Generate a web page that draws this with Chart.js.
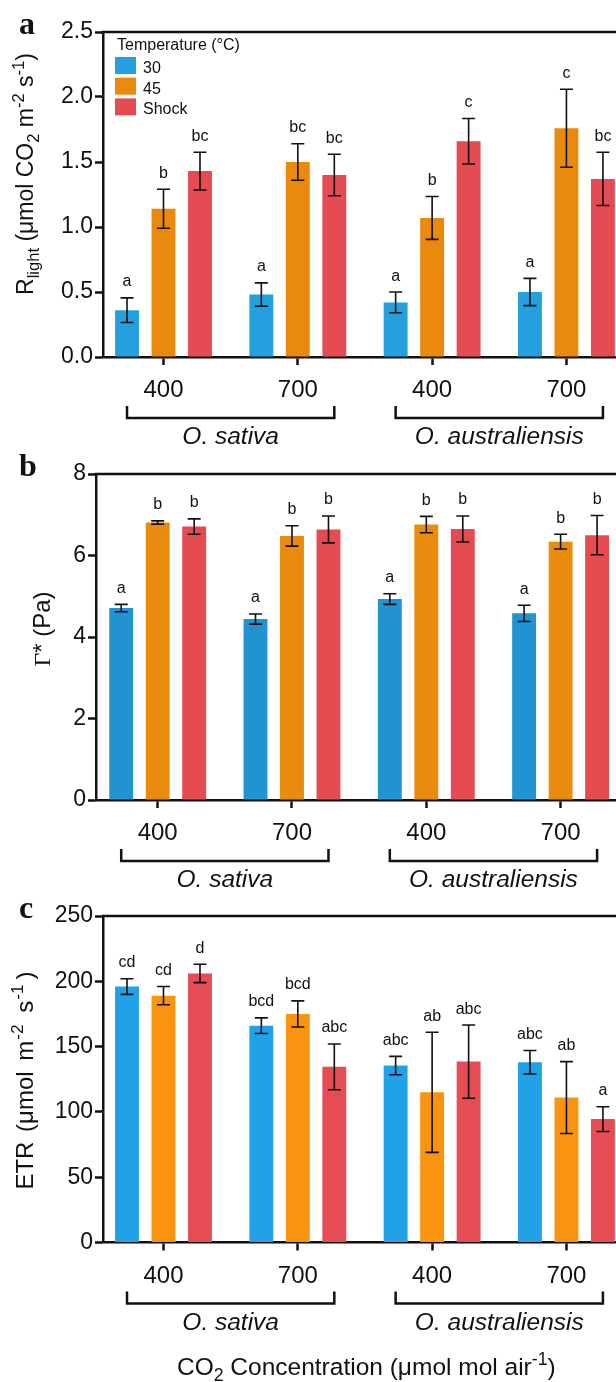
<!DOCTYPE html>
<html>
<head>
<meta charset="utf-8">
<script src="https://cdn.jsdelivr.net/npm/chart.js@4.4.0/dist/chart.umd.min.js"></script>
<style>
  html, body { margin: 0; padding: 0; background: #fff; overflow: hidden; }
  .panel { position: absolute; left: 0; width: 616px; }
</style>
</head>
<body>
<div class="panel" style="top:0;height:460px"><canvas id="chartA"></canvas></div>
<div class="panel" style="top:442px;height:460px"><canvas id="chartB"></canvas></div>
<div class="panel" style="top:884px;height:498px"><canvas id="chartC"></canvas></div>
<script>
// categories
const co2Labels = ['400', '700', '400', '700'];
const speciesNames = ['O. sativa', 'O. australiensis'];
const tempLabels = ['30', '45', 'Shock'];
const legendTitle = 'Temperature (\u00B0C)';

// a: R light
const rlight30 = [0.36, 0.48, 0.42, 0.50];
const rlight45 = [1.14, 1.50, 1.07, 1.76];
const rlightShock = [1.43, 1.40, 1.66, 1.37];
const rlight30Err = [0.095, 0.09, 0.08, 0.105];
const rlight45Err = [0.15, 0.14, 0.165, 0.30];
const rlightShockErr = [0.145, 0.16, 0.175, 0.205];
const rlight30Sig = ['a', 'a', 'a', 'a'];
const rlight45Sig = ['b', 'bc', 'b', 'c'];
const rlightShockSig = ['bc', 'bc', 'c', 'bc'];
const rlightTicks = [0, 0.5, 1.0, 1.5, 2.0, 2.5];

// b: gamma star
const gamma30 = [4.71, 4.44, 4.93, 4.58];
const gamma45 = [6.81, 6.48, 6.76, 6.34];
const gammaShock = [6.71, 6.64, 6.65, 6.50];
const gamma30Err = [0.09, 0.125, 0.13, 0.20];
const gamma45Err = [0.04, 0.25, 0.20, 0.18];
const gammaShockErr = [0.19, 0.33, 0.32, 0.48];
const gamma30Sig = ['a', 'a', 'a', 'a'];
const gamma45Sig = ['b', 'b', 'b', 'b'];
const gammaShockSig = ['b', 'b', 'b', 'b'];
const gammaTicks = [0, 2, 4, 6, 8];

// c: ETR
const etr30 = [196, 166, 135.5, 138];
const etr45 = [189, 175, 115, 111];
const etrShock = [206, 134.5, 138.5, 94.5];
const etr30Err = [6, 6, 7, 9];
const etr45Err = [7, 10, 46, 27.5];
const etrShockErr = [7, 17.5, 28, 9.5];
const etr30Sig = ['cd', 'bcd', 'abc', 'abc'];
const etr45Sig = ['cd', 'bcd', 'ab', 'ab'];
const etrShockSig = ['d', 'abc', 'abc', 'a'];
const etrTicks = [0, 50, 100, 150, 200, 250];

const BLACK = '#111';
const SANS = '"Liberation Sans", Arial, Helvetica, sans-serif';
const SERIF = '"Liberation Serif", "Times New Roman", serif';
const CAT_PCT = 0.815;

function partFont(p, size) {
  const s = (p.s === 'sub' || p.s === 'sup') ? size * 0.72 : size;
  return (p.it ? 'italic ' : '') + s + 'px ' + (p.serif ? SERIF : SANS);
}

// draws text made of parts (sub/superscripts), centred on 0,0 baseline
function drawRich(ctx, parts, size) {
  let w = 0;
  parts.forEach(p => { ctx.font = partFont(p, size); w += ctx.measureText(p.t).width + (p.gap || 0); });
  let x = -w / 2;
  ctx.textAlign = 'left';
  ctx.textBaseline = 'alphabetic';
  parts.forEach(p => {
    ctx.font = partFont(p, size);
    const dy = p.s === 'sub' ? size * 0.25 : p.s === 'sup' ? -size * 0.4 : 0;
    ctx.fillText(p.t, x, dy);
    x += ctx.measureText(p.t).width + (p.gap || 0);
  });
}

const extras = {
  id: 'extras',
  afterDatasetsDraw(chart) {
    const ctx = chart.ctx, ys = chart.scales.y;
    ctx.save();
    ctx.strokeStyle = BLACK;
    ctx.fillStyle = BLACK;
    ctx.lineWidth = 1.6;
    chart.data.datasets.forEach((ds, k) => {
      chart.getDatasetMeta(k).data.forEach((bar, i) => {
        const v = ds.data[i].y, e = ds.errors[i];
        const hi = ys.getPixelForValue(v + e), lo = ys.getPixelForValue(v - e);
        ctx.beginPath();
        ctx.moveTo(bar.x, hi); ctx.lineTo(bar.x, lo);
        ctx.moveTo(bar.x - 6.5, hi); ctx.lineTo(bar.x + 6.5, hi);
        ctx.moveTo(bar.x - 6.5, lo); ctx.lineTo(bar.x + 6.5, lo);
        ctx.stroke();
        ctx.font = '16px ' + SANS;
        ctx.textAlign = 'center';
        ctx.textBaseline = 'alphabetic';
        ctx.fillText(ds.letters[i], bar.x, hi - 11.5);
      });
    });
    ctx.restore();
  },
  afterDraw(chart, args, o) {
    const ctx = chart.ctx, a = chart.chartArea, xs = chart.scales.x;
    ctx.save();
    ctx.strokeStyle = BLACK;
    ctx.fillStyle = BLACK;
    ctx.lineWidth = 2.5;
    ctx.lineJoin = 'miter';

    // top frame line
    ctx.beginPath();
    ctx.moveTo(a.left - 1.25, a.top);
    ctx.lineTo(chart.width, a.top);
    ctx.stroke();

    // species brackets
    const pitch = CAT_PCT / 3;
    speciesNames.forEach((name, s) => {
      const xl = xs.getPixelForValue(2 * s - pitch);
      const xr = xs.getPixelForValue(2 * s + 1 + pitch);
      ctx.beginPath();
      ctx.moveTo(xl, a.bottom + 49);
      ctx.lineTo(xl, a.bottom + 61);
      ctx.lineTo(xr, a.bottom + 61);
      ctx.lineTo(xr, a.bottom + 49);
      ctx.stroke();
      ctx.font = 'italic 24.5px ' + SANS;
      ctx.textAlign = 'center';
      ctx.textBaseline = 'alphabetic';
      ctx.fillText(name, (xl + xr) / 2, a.bottom + 87);
    });

    // y title
    ctx.save();
    ctx.translate(o.titleX, o.titleY);
    ctx.rotate(-Math.PI / 2);
    drawRich(ctx, o.title, o.titleSize);
    ctx.restore();

    // x title
    if (o.xTitle) {
      ctx.save();
      ctx.translate((a.left + xs.getPixelForValue(3.5)) / 2 - 2, a.bottom + 132);
      drawRich(ctx, o.xTitle, 24.5);
      ctx.restore();
    }

    // panel letter
    ctx.font = 'bold 32px ' + SERIF;
    ctx.textAlign = 'left';
    ctx.textBaseline = 'alphabetic';
    ctx.fillText(o.letter, 19, a.top + 2);

    // legend
    if (o.legend) {
      ctx.font = '16px ' + SANS;
      ctx.fillText(legendTitle, 117, 50);
      chart.data.datasets.forEach((ds, k) => {
        const top = 57 + k * 20.7;
        ctx.fillStyle = ds.backgroundColor;
        ctx.fillRect(115, top, 21, 17);
        ctx.fillStyle = BLACK;
        ctx.fillText(ds.label, 143, top + 16);
      });
    }
    ctx.restore();
  }
};

function makePanel(id, cfg) {
  const datasets = tempLabels.map((t, k) => ({
    label: t,
    data: cfg.values[k].map((v, i) => ({ x: i, y: v })),
    errors: cfg.errors[k],
    letters: cfg.letters[k],
    backgroundColor: cfg.colors[k],
    borderWidth: 0,
    categoryPercentage: CAT_PCT,
    barPercentage: 0.655
  }));

  return new Chart(document.getElementById(id), {
    type: 'bar',
    data: { datasets: datasets },
    plugins: [extras],
    options: {
      responsive: true,
      maintainAspectRatio: false,
      animation: false,
      layout: { padding: { top: 32, left: 0, right: 0, bottom: 0 } },
      scales: {
        x: {
          type: 'linear',
          offset: false,
          min: cfg.xMin,
          max: cfg.xMax,
          afterBuildTicks: s => { s.ticks = co2Labels.map((c, i) => ({ value: i })); },
          afterFit: s => { s.height = cfg.bottomSpace; },
          grid: { offset: false, drawOnChartArea: false, drawTicks: true, tickLength: 8, tickWidth: 2.5, tickColor: BLACK },
          border: { display: true, color: BLACK, width: 2.5 },
          ticks: {
            callback: v => co2Labels[v],
            color: BLACK,
            font: { family: SANS, size: 24 },
            padding: 11,
            maxRotation: 0
          }
        },
        y: {
          min: cfg.yTicks[0],
          max: cfg.yTicks[cfg.yTicks.length - 1],
          afterBuildTicks: s => { s.ticks = cfg.yTicks.map(v => ({ value: v })); },
          afterFit: s => { s.width = cfg.axisLeft; },
          grid: { drawOnChartArea: false, drawTicks: true, tickLength: 8, tickWidth: 2.5, tickColor: BLACK },
          border: { display: true, color: BLACK, width: 2.5 },
          ticks: {
            callback: cfg.yFormat,
            color: BLACK,
            font: { family: SANS, size: 23 },
            padding: 2
          }
        }
      },
      plugins: {
        legend: { display: false },
        tooltip: { enabled: false },
        extras: cfg.extras
      }
    }
  });
}

makePanel('chartA', {
  values: [rlight30, rlight45, rlightShock],
  errors: [rlight30Err, rlight45Err, rlightShockErr],
  letters: [rlight30Sig, rlight45Sig, rlightShockSig],
  colors: ['#24a0df', '#e98a0c', '#e54b52'],
  yTicks: rlightTicks,
  yFormat: v => v.toFixed(1),
  axisLeft: 103, xMin: -0.4505, xMax: 3.369, bottomSpace: 103,
  extras: {
    letter: 'a', legend: true, titleX: 33, titleY: 174, titleSize: 23,
    title: [{ t: 'R' }, { t: 'light', s: 'sub' }, { t: ' (\u03BCmol CO' }, { t: '2', s: 'sub' },
            { t: ' m' }, { t: '-2', s: 'sup' }, { t: ' s' }, { t: '-1', s: 'sup' }, { t: ')' }]
  }
});

makePanel('chartB', {
  values: [gamma30, gamma45, gammaShock],
  errors: [gamma30Err, gamma45Err, gammaShockErr],
  letters: [gamma30Sig, gamma45Sig, gammaShockSig],
  colors: ['#2193d0', '#e98b0c', '#e54b50'],
  yTicks: gammaTicks,
  yFormat: v => String(v),
  axisLeft: 96, xMin: -0.4594, xMax: 3.4125, bottomSpace: 102,
  extras: {
    letter: 'b', titleX: 50, titleY: 187, titleSize: 24,
    title: [{ t: '\u0393', serif: true }, { t: '* (Pa)' }]
  }
});

makePanel('chartC', {
  values: [etr30, etr45, etrShock],
  errors: [etr30Err, etr45Err, etrShockErr],
  letters: [etr30Sig, etr45Sig, etrShockSig],
  colors: ['#22a2e6', '#f8940f', '#e54c53'],
  yTicks: etrTicks,
  yFormat: v => String(v),
  axisLeft: 103, xMin: -0.4505, xMax: 3.369, bottomSpace: 139.5,
  extras: {
    letter: 'c', titleX: 33, titleY: 196.5, titleSize: 24,
    title: [{ t: 'ETR', gap: 3 }, { t: ' (\u03BCmol', gap: 4 }, { t: ' m', gap: 1 }, { t: '-2', s: 'sup', gap: 5 },
            { t: ' s', gap: 1 }, { t: '-1', s: 'sup', gap: 5 }, { t: ')' }],
    xTitle: [{ t: 'CO' }, { t: '2', s: 'sub' }, { t: ' Concentration (\u03BCmol mol air' }, { t: '-1', s: 'sup' }, { t: ')' }]
  }
});
</script>
</body>
</html>
